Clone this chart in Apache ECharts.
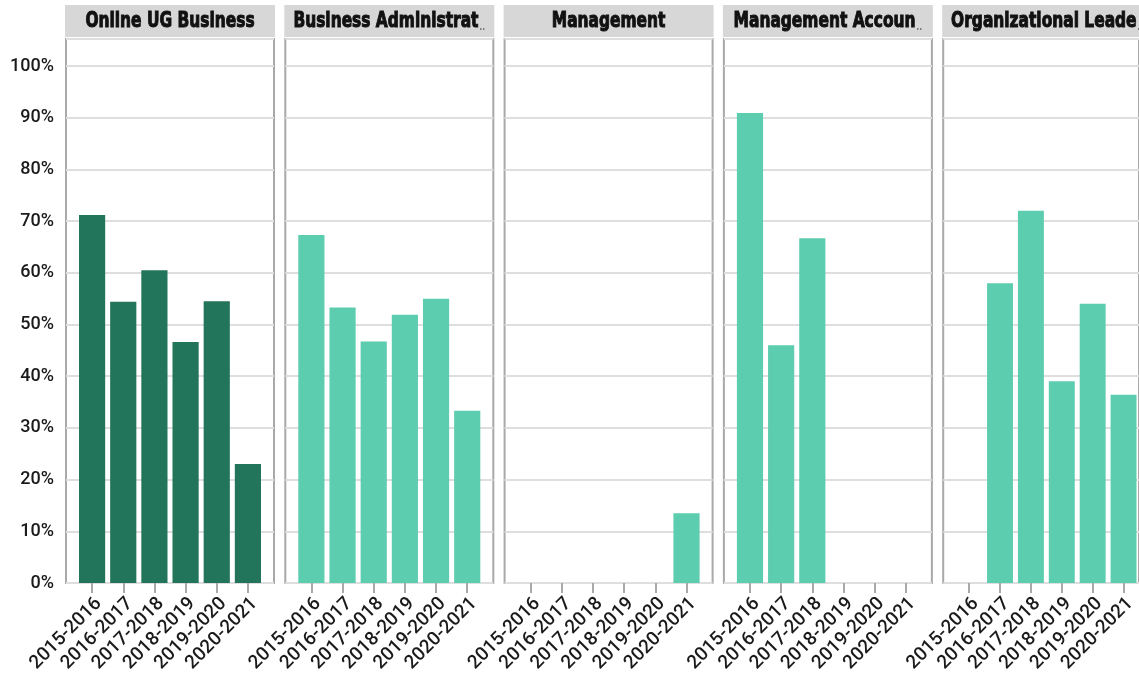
<!DOCTYPE html>
<html><head><meta charset="utf-8">
<script src="https://cdn.jsdelivr.net/npm/echarts@6/dist/echarts.min.js"></script>
<style>html,body{margin:0;padding:0;background:#fff}#c{width:1139px;height:680px}</style>
</head><body><div id="c"></div>
<script>
const categories = ['2015-2016','2016-2017','2017-2018','2018-2019','2019-2020','2020-2021'];
const panelTitles = ['Online UG Business','Business Administrat','Management','Management Accoun','Organizational Leade'];
const truncated = [false, true, false, true, true];
const onlineUG = [0.712, 0.544, 0.605, 0.466, 0.545, 0.230];
const businessAdmin = [0.673, 0.533, 0.467, 0.519, 0.550, 0.333];
const management = [null, null, null, null, null, 0.135];
const mgmtAccounting = [0.909, 0.460, 0.667, null, null, null];
const orgLeadership = [null, 0.580, 0.720, 0.390, 0.540, 0.364];
const seriesValues = [onlineUG, businessAdmin, management, mgmtAccounting, orgLeadership];
const panelColors = ['#22745a', '#5dcdb0', '#5dcdb0', '#5dcdb0', '#5dcdb0'];

const chart = echarts.init(document.getElementById('c'));
const P0 = 66, PITCH = 219.3, PW = 208, TOP = 39, BOTTOM = 583;
const YMAX = (BOTTOM - TOP) / ((BOTTOM - 66) / 1.0);
const grids = [], xAxes = [], yAxes = [], series = [], graphics = [];
const TITLE_FONT = 'bold 22px "DejaVu Sans Condensed", "DejaVu Sans", sans-serif';
for (let i = 0; i < 5; i++) {
  const left = P0 + i * PITCH;
  grids.push({left: left, top: TOP, width: PW, height: BOTTOM - TOP, show: true, borderColor: '#a9a9a9', borderWidth: 2, backgroundColor: 'transparent'});
  xAxes.push({gridIndex: 2*i, type: 'value', show: false, min: 0, max: 1});
  yAxes.push({gridIndex: 2*i, type: 'value', min: 0, max: YMAX, interval: 0.1,
    axisLine: {show: false}, axisTick: {show: false},
    splitLine: {show: true, lineStyle: {color: '#dedede', width: 2}},
    axisLabel: {show: i === 0, showMaxLabel: false, margin: 12, fontFamily: 'Roboto', fontWeight: 500, fontSize: 18, color: '#1a1a1a',
      formatter: v => v > 1.0001 ? '' : Math.round(v * 100) + '%'}});
  grids.push({left: left + 10.5, top: TOP, width: PW - 21, height: BOTTOM - TOP});
  xAxes.push({gridIndex: 2*i+1, type: 'category', data: categories,
    axisLine: {show: false},
    axisTick: {show: true, alignWithLabel: true, length: 10, lineStyle: {color: '#a9a9a9', width: 2}},
    axisLabel: {rotate: 45, interval: 0, margin: 11, verticalAlign: 'top', fontFamily: 'Roboto', fontWeight: 500, fontSize: 19, color: '#1a1a1a'}});
  yAxes.push({gridIndex: 2*i+1, type: 'value', min: 0, max: YMAX, show: false});
  series.push({type: 'bar', xAxisIndex: 2*i+1, yAxisIndex: 2*i+1, data: seriesValues[i],
    barCategoryGap: '16%', itemStyle: {color: panelColors[i]}, silent: true, animation: false});
  graphics.push({type: 'rect', x: left - 1, y: 5, shape: {width: PW + 2, height: 32}, style: {fill: '#d7d7d7'}});
  graphics.push({type: 'text', x: left + PW / 2, y: 21, scaleX: 0.78,
    style: {text: panelTitles[i] + (truncated[i] ? '{e|..}' : ''), rich: {e: {font: 'bold 10px "DejaVu Sans"', fill: '#777', stroke: 'none', lineWidth: 0, verticalAlign: 'bottom', padding: [8,0,0,1]}},
      font: TITLE_FONT, fill: '#111', stroke: '#111', lineWidth: 1, align: 'center', verticalAlign: 'middle'}});
}
chart.setOption({animation: false, grid: grids, xAxis: xAxes, yAxis: yAxes, series: series, graphic: graphics});
</script></body></html>
